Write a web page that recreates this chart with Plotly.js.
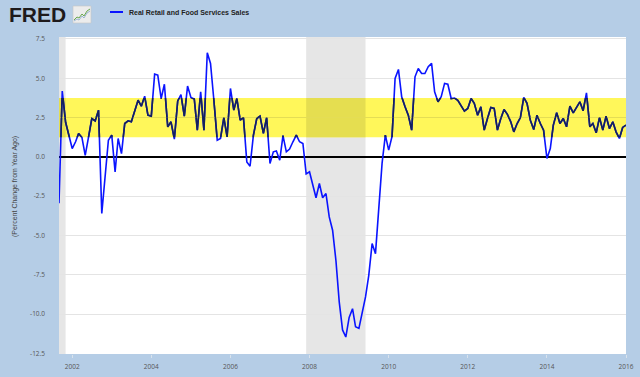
<!DOCTYPE html>
<html>
<head>
<meta charset="utf-8">
<script src="https://cdn.plot.ly/plotly-3.0.1.min.js"></script>
<style>
  html, body { margin: 0; padding: 0; background: #b5cde6; }
  #chart { width: 640px; height: 377px; }
</style>
</head>
<body>
<div id="chart"></div>
<script>
// Monthly series: Real Retail and Food Services Sales, percent change from year ago
const startYear = 2001;
const startMonth = 9; // September 2001
const seriesName = "Real Retail and Food Services Sales";
const values = [
  -2.95, 4.18, 2.2, 1.4, 0.53, 0.96, 1.49, 1.23, 0.1, 1.27, 2.44, 2.29,
  2.97, -3.6, -1.27, 1.06, 1.38, -0.95, 1.17, 0.21, 2.12, 2.29, 2.23, 2.97,
  3.6, 3.22, 3.86, 2.65, 2.59, 5.26, 5.2, 3.71, 4.62, 1.91, 2.23, 1.13,
  3.56, 3.95, 2.59, 4.5, 3.78, 3.68, 1.7, 4.14, 1.7, 6.62, 5.94, 3.6,
  1.06, 1.17, 2.5, 1.27, 4.35, 2.97, 3.71, 2.33, 2.5, -0.32, -0.59, 1.38,
  2.44, 2.59, 1.49, 2.5, -0.42, 0.32, 0.38, -0.21, 1.35, 0.32, 0.5, 0.96,
  1.38, 0.96, 0.85, -1.08, -0.95, -1.8, -2.6, -1.69, -2.6, -2.33, -3.82, -4.66,
  -6.6, -9.2, -11.0, -11.45, -10.2, -9.65, -10.8, -10.9, -9.97, -8.9, -7.53, -5.51,
  -6.15, -3.0, -0.4, 1.38, 0.43, 1.3, 4.98, 5.56, 3.82, 3.18, 2.65, 1.7,
  5.09, 5.62, 5.3, 5.3, 5.73, 5.94, 4.14, 3.5, 3.82, 4.67, 4.62, 3.71,
  3.74, 3.6, 3.29, 2.91, 3.08, 3.71, 3.4, 2.65, 3.18, 1.7, 2.44, 3.14,
  3.08, 1.7, 2.44, 3.01, 2.7, 2.23, 1.59, 2.12, 2.5, 3.78, 3.4, 2.33,
  1.74, 2.65, 2.12, 1.7, -0.1, 0.53, 2.02, 2.8, 2.12, 2.44, 1.91, 3.22,
  2.8, 3.14, 3.5, 2.93, 4.07, 1.91, 2.12, 1.53, 2.5, 1.7, 2.59, 1.8,
  2.23, 1.59, 1.17, 1.87, 2.02
];
const recessions = [["2001-03-01", "2001-11-01"], ["2007-12-01", "2009-06-01"]];
const bandRange = [1.25, 3.75];
const yRange = [-12.53, 7.62];
const xRange = ["2001-09-01", "2016-01-01"];
const yTicks = [7.5, 5.0, 2.5, 0.0, -2.5, -5.0, -7.5, -10.0, -12.5];

const dates = values.map((v, i) => {
  const m0 = startMonth - 1 + i;
  const y = startYear + Math.floor(m0 / 12);
  const m = (m0 % 12) + 1;
  return y + "-" + String(m).padStart(2, "0") + "-01";
});

// main line, and the same line seen through the yellow highlighter (clipped to the band sub-axis)
const trace = {
  x: dates, y: values, type: "scatter", mode: "lines",
  name: seriesName, xaxis: "x", yaxis: "y",
  line: { color: "#0a14ff", width: 1.6 }, hoverinfo: "skip"
};
const traceInBand = {
  x: dates, y: values, type: "scatter", mode: "lines",
  name: seriesName, xaxis: "x", yaxis: "y2",
  line: { color: "#15215a", width: 1.6 }, hoverinfo: "skip"
};

const span = yRange[1] - yRange[0];
const bandDomain = [(bandRange[0] - yRange[0]) / span, (bandRange[1] - yRange[0]) / span];

const shapes = [];
// white plot area (paper level, under everything)
shapes.push({
  type: "rect", xref: "paper", yref: "paper", x0: 0, x1: 1, y0: 0, y1: 1,
  fillcolor: "#ffffff", line: { width: 0 }, layer: "below"
});
recessions.forEach(r => shapes.push({
  type: "rect", xref: "x", yref: "paper",
  x0: r[0], x1: r[1], y0: 0, y1: 1,
  fillcolor: "#e6e6e6", line: { width: 0 }, layer: "below"
}));
shapes.push({
  type: "rect", xref: "paper", yref: "y",
  x0: 0, x1: 1, y0: bandRange[0], y1: bandRange[1],
  fillcolor: "#fff75a", line: { width: 0 }, layer: "below"
});
// highlighter over the recession shading
recessions.forEach(r => shapes.push({
  type: "rect", xref: "x", yref: "y",
  x0: r[0], x1: r[1], y0: bandRange[0], y1: bandRange[1],
  fillcolor: "#e5de50", line: { width: 0 }, layer: "below"
}));
// legend sample line
shapes.push({
  type: "line", xref: "paper", yref: "paper",
  x0: (110 - 59) / 567, x1: (123 - 59) / 567,
  y0: (354 - 12) / 317, y1: (354 - 12) / 317,
  line: { color: "#0a14ff", width: 2 }, layer: "above"
});
// FRED logo icon
shapes.push({
  type: "rect", xref: "paper", yref: "paper",
  x0: (73 - 59) / 567, x1: (91 - 59) / 567,
  y0: (354 - 23) / 317, y1: (354 - 6) / 317,
  fillcolor: "#ececec", line: { color: "#c8c8c8", width: 0.6 }, layer: "above"
});
function iconPath(pts) {
  return pts.map((p, k) => (k ? "L" : "M") + ((p[0] - 59) / 567).toFixed(4) + "," + ((354 - p[1]) / 317).toFixed(4)).join(" ");
}
shapes.push({
  type: "path", xref: "paper", yref: "paper",
  path: iconPath([[74, 20], [77, 17], [79, 18], [82, 14], [84, 16], [87, 11], [90, 9]]),
  line: { color: "#6aa84f", width: 1 }, layer: "above"
});
shapes.push({
  type: "path", xref: "paper", yref: "paper",
  path: iconPath([[74, 21], [77, 19], [79, 20], [82, 16], [84, 18], [87, 13], [90, 11]]),
  line: { color: "#7a9cc6", width: 0.7 }, layer: "above"
});

const annotations = [
  {
    xref: "paper", yref: "paper",
    x: (127 - 59) / 567, y: (354 - 12) / 317,
    xanchor: "left", yanchor: "middle", showarrow: false,
    text: "<b>" + seriesName + "</b>",
    font: { family: "Liberation Sans, Arial, sans-serif", size: 7, color: "#222" }
  },
  {
    xref: "paper", yref: "paper",
    x: (7 - 59) / 567, y: (354 - 14) / 317,
    xanchor: "left", yanchor: "middle", showarrow: false,
    text: "<b>FRED</b>",
    font: { family: "Liberation Sans, Arial, sans-serif", size: 21, color: "#1e1a1b" }
  },
  {
    xref: "paper", yref: "paper",
    x: (15 - 59) / 567, y: (354 - 187) / 317,
    xanchor: "center", yanchor: "middle", showarrow: false, textangle: -90,
    text: "(Percent Change from Year Ago)",
    font: { family: "Liberation Sans, Arial, sans-serif", size: 7, color: "#444" }
  }
];

const layout = {
  width: 640, height: 377,
  margin: { l: 59, r: 14, t: 37, b: 23, pad: 0 },
  paper_bgcolor: "#b5cde6",
  plot_bgcolor: "rgba(0,0,0,0)",
  showlegend: false,
  xaxis: {
    type: "date",
    range: xRange,
    tick0: "2002-01-01", dtick: "M24", tickformat: "%Y",
    showgrid: false, zeroline: false, showline: false,
    ticks: "outside", ticklen: 3, tickcolor: "#d8e2ec", tickwidth: 1,
    ticklabelstandoff: 3,
    tickfont: { family: "Open Sans, Liberation Sans, sans-serif", size: 6.5, color: "#555" }
  },
  yaxis: {
    range: yRange,
    tickvals: yTicks,
    ticktext: yTicks.map(v => v.toFixed(1)),
    showgrid: true, gridcolor: "#e4e4e4", gridwidth: 1,
    zeroline: true, zerolinecolor: "#000000", zerolinewidth: 1.5,
    showline: false, ticks: "",
    ticklabelstandoff: 13,
    tickfont: { family: "Open Sans, Liberation Sans, sans-serif", size: 6.5, color: "#555" }
  },
  yaxis2: {
    domain: bandDomain,
    range: bandRange,
    anchor: "x",
    tickvals: [2.5],
    showticklabels: false, ticks: "",
    showgrid: true, gridcolor: "#e4dd55", gridwidth: 1,
    zeroline: false, showline: false
  },
  shapes: shapes,
  annotations: annotations
};

Plotly.newPlot("chart", [trace, traceInBand], layout, { displayModeBar: false, staticPlot: true });
</script>
</body>
</html>
